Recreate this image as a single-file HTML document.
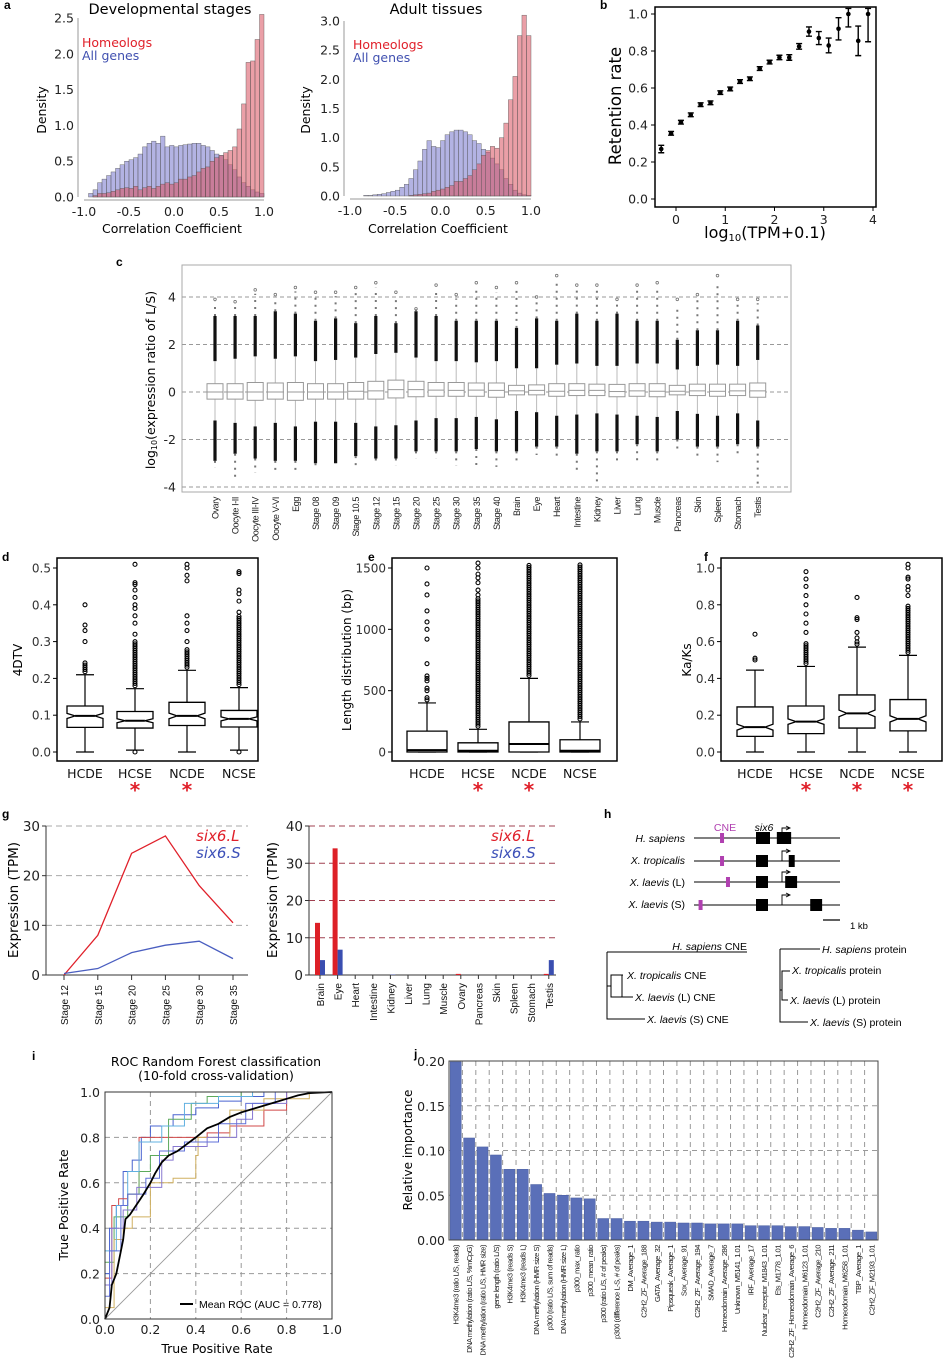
<!DOCTYPE html>
<html><head><meta charset="utf-8">
<style>
html,body{margin:0;padding:0;background:#fff;}
svg{display:block;font-family:"DejaVu Sans","Liberation Sans",sans-serif;}
.pl{font-family:"Liberation Sans",sans-serif;font-weight:bold;font-size:12px;}
</style></head>
<body>
<svg id="fig" width="946" height="1363" viewBox="0 0 946 1363" xmlns="http://www.w3.org/2000/svg">
<rect x="0" y="0" width="946" height="1363" fill="#fff"/>
<text class="pl" x="4" y="9">a</text>
<text class="pl" x="600" y="9">b</text>
<text class="pl" x="116" y="266">c</text>
<text class="pl" x="2" y="561">d</text>
<text class="pl" x="368" y="561">e</text>
<text class="pl" x="704" y="561">f</text>
<text class="pl" x="2" y="818">g</text>
<text class="pl" x="604" y="818">h</text>
<text class="pl" x="32" y="1060">i</text>
<text class="pl" x="414" y="1058">j</text>

<text x="170" y="14" font-size="14.5" text-anchor="middle">Developmental stages</text>
<text x="436" y="14" font-size="14.5" text-anchor="middle">Adult tissues</text>
<text x="82" y="47" font-size="12.5" fill="#e0202a">Homeologs</text>
<text x="82" y="60" font-size="12.5" fill="#4050b0">All genes</text>
<text x="353" y="49" font-size="12.5" fill="#e0202a">Homeologs</text>
<text x="353" y="62" font-size="12.5" fill="#4050b0">All genes</text>
<text x="172" y="233" font-size="12.5" text-anchor="middle">Correlation Coefficient</text>
<text x="438" y="233" font-size="12.5" text-anchor="middle">Correlation Coefficient</text>
<text transform="translate(46,110) rotate(-90)" font-size="12.5" text-anchor="middle">Density</text>
<text transform="translate(310,110) rotate(-90)" font-size="12.5" text-anchor="middle">Density</text>

<text transform="translate(621,106) rotate(-90)" font-size="16.5" text-anchor="middle">Retention rate</text>
<text x="765" y="238" font-size="16" text-anchor="middle">log<tspan font-size="10" dy="3">10</tspan><tspan dy="-3">(TPM+0.1)</tspan></text>

<text transform="translate(155,380) rotate(-90)" font-size="12.5" text-anchor="middle">log<tspan font-size="8" dy="2">10</tspan><tspan dy="-2">(expression ratio of L/S)</tspan></text>

<text transform="translate(22,660) rotate(-90)" font-size="12" text-anchor="middle">4DTV</text>
<text transform="translate(351,660) rotate(-90)" font-size="12" text-anchor="middle">Length distribution (bp)</text>
<text transform="translate(691,660) rotate(-90)" font-size="12" text-anchor="middle">Ka/Ks</text>

<text transform="translate(18,900) rotate(-90)" font-size="13.5" text-anchor="middle">Expression (TPM)</text>
<text transform="translate(277,900) rotate(-90)" font-size="13.5" text-anchor="middle">Expression (TPM)</text>
<text x="196" y="841" font-size="15" font-style="italic" fill="#e0202a">six6.L</text>
<text x="196" y="858" font-size="15" font-style="italic" fill="#3d50b8">six6.S</text>
<text x="491" y="841" font-size="15" font-style="italic" fill="#e0202a">six6.L</text>
<text x="491" y="858" font-size="15" font-style="italic" fill="#3d50b8">six6.S</text>

<g font-family="Liberation Sans, sans-serif" font-size="10.5">
  <text x="725" y="831" fill="#b040b0" text-anchor="middle">CNE</text>
  <text x="764" y="831" font-style="italic" text-anchor="middle">six6</text>
  <text x="685" y="842" text-anchor="end"><tspan font-style="italic">H. sapiens</tspan></text>
  <text x="685" y="864" text-anchor="end"><tspan font-style="italic">X. tropicalis</tspan></text>
  <text x="685" y="886" text-anchor="end"><tspan font-style="italic">X. laevis</tspan> (L)</text>
  <text x="685" y="908" text-anchor="end"><tspan font-style="italic">X. laevis</tspan> (S)</text>
  <line x1="823" y1="920" x2="840" y2="920" stroke="#000" stroke-width="1.2"/>
  <text x="850" y="929" font-size="9.5">1 kb</text>
  <g stroke="#000" stroke-width="1" fill="none">
    <path d="M607,952 H747 M607,952 V1019 H645 M607,986 H611 M611,986 V975 H623 M611,986 V997 H633 M622,975 V997" />
  </g>
  <text x="747" y="950" text-anchor="end"><tspan font-style="italic">H. sapiens</tspan> CNE</text>
  <text x="627" y="979"><tspan font-style="italic">X. tropicalis</tspan> CNE</text>
  <text x="635" y="1001"><tspan font-style="italic">X. laevis</tspan> (L) CNE</text>
  <text x="647" y="1023"><tspan font-style="italic">X. laevis</tspan> (S) CNE</text>
  <g stroke="#000" stroke-width="1" fill="none">
    <path d="M780,949 H820 M780,949 V1022 H808 M780,990 H782 M782,990 V971 H790 M782,990 V1000 H788" />
  </g>
  <text x="822" y="953"><tspan font-style="italic">H. sapiens</tspan> protein</text>
  <text x="792" y="974"><tspan font-style="italic">X. tropicalis</tspan> protein</text>
  <text x="790" y="1004"><tspan font-style="italic">X. laevis</tspan> (L) protein</text>
  <text x="810" y="1026"><tspan font-style="italic">X. laevis</tspan> (S) protein</text>
</g>

<text x="216" y="1066" font-size="12.5" text-anchor="middle">ROC Random Forest classification</text>
<text x="216" y="1080" font-size="12.5" text-anchor="middle">(10-fold cross-validation)</text>
<text transform="translate(68,1205) rotate(-90)" font-size="12.5" text-anchor="middle">True Positive Rate</text>
<text x="217" y="1353" font-size="12.5" text-anchor="middle">True Positive Rate</text>
<line x1="180" y1="1304" x2="193" y2="1304" stroke="#000" stroke-width="2"/>
<text x="199" y="1308" font-family="Liberation Sans, sans-serif" font-size="10.5">Mean ROC (AUC = 0.778)</text>

<text transform="translate(412,1150) rotate(-90)" font-size="12" text-anchor="middle">Relative importance</text>
</svg>

<script>
const histBinsStart = -1;
const histBinWidth = 0.05;
const devAll = [0,0.05,0.1,0.2,0.25,0.3,0.35,0.4,0.45,0.5, 0.52,0.55,0.6,0.7,0.75,0.78,0.75,0.85,0.7,0.72, 0.7,0.72,0.73,0.74,0.75,0.75,0.72,0.7,0.65,0.6, 0.58,0.52,0.45,0.38,0.28,0.2,0.15,0.1,0.07,0.05];
const devHomeo = [0,0,0.02,0.05,0.05,0.06,0.08,0.1,0.12,0.13, 0.12,0.15,0.1,0.13,0.15,0.12,0.15,0.18,0.2,0.18, 0.2,0.25,0.25,0.28,0.3,0.35,0.4,0.42,0.5,0.55, 0.58,0.62,0.65,0.7,0.95,1.3,1.88,1.9,2.2,2.55];
const adultAll = [0,0,0,0.01,0.01,0.02,0.03,0.04,0.06,0.08, 0.1,0.15,0.2,0.3,0.45,0.6,0.8,0.95,0.85,0.83, 0.95,1.05,1.1,1.13,1.13,1.1,1.05,0.95,0.9,0.8, 0.75,0.65,0.55,0.45,0.3,0.2,0.1,0.05,0.02,0.01];
const adultHomeo = [0,0,0,0,0,0,0,0,0,0, 0,0,0,0.01,0.02,0.03,0.04,0.05,0.08,0.1, 0.12,0.15,0.18,0.25,0.25,0.3,0.35,0.45,0.55,0.7, 0.78,0.85,0.82,1.0,1.25,1.65,2.05,2.75,3.1,2.75];
const histXTicks = [-1,-0.5,0,0.5,1];
const devYTicks = [0,0.5,1,1.5,2,2.5];
const adultYTicks = [0,0.5,1,1.5,2,2.5,3];
const retX = [-0.3,-0.1,0.1,0.3,0.5,0.7,0.9,1.1,1.3,1.5,1.7,1.9,2.1,2.3,2.5,2.7,2.9,3.1,3.3,3.5,3.7,3.9];
const retY = [0.27,0.355,0.415,0.455,0.51,0.52,0.575,0.595,0.635,0.65,0.705,0.74,0.765,0.765,0.825,0.905,0.87,0.83,0.92,1.0,0.855,1.0];
const retErr = [0.02,0.01,0.01,0.01,0.01,0.01,0.01,0.01,0.01,0.01,0.01,0.01,0.012,0.015,0.015,0.025,0.035,0.04,0.06,0.07,0.08,0.15];
const retXTicks = [0,1,2,3,4];
const retYTicks = [0,0.2,0.4,0.6,0.8,1.0];
const cCats = ["Ovary","Oocyte I-II","Oocyte III-IV","Oocyte V-VI","Egg","Stage 08","Stage 09","Stage 10.5","Stage 12","Stage 15","Stage 20","Stage 25","Stage 30","Stage 35","Stage 40","Brain","Eye","Heart","Intestine","Kidney","Liver","Lung","Muscle","Pancreas","Skin","Spleen","Stomach","Testis"];
const cMed = [0,0,0,0,0,0,0,0.03,0.05,0.1,0.1,0.08,0.07,0.08,0.07,0.05,0.07,0.03,0.07,0.07,0.02,0.05,0.03,0.03,0.05,0.03,0.05,0.05];
const cQ3 = [0.35,0.35,0.4,0.38,0.4,0.35,0.35,0.4,0.45,0.5,0.45,0.4,0.4,0.38,0.38,0.28,0.3,0.35,0.35,0.33,0.32,0.35,0.35,0.28,0.33,0.33,0.33,0.38];
const cQ1 = [-0.3,-0.3,-0.35,-0.3,-0.35,-0.3,-0.3,-0.3,-0.3,-0.25,-0.2,-0.18,-0.18,-0.18,-0.22,-0.12,-0.12,-0.18,-0.15,-0.15,-0.2,-0.18,-0.2,-0.12,-0.15,-0.18,-0.15,-0.22];
const cWhiskHi = [1.3,1.4,1.5,1.4,1.5,1.3,1.35,1.45,1.6,1.65,1.45,1.3,1.3,1.25,1.3,1.0,1.0,1.15,1.2,1.1,1.1,1.2,1.2,0.95,1.1,1.15,1.1,1.35];
const cWhiskLo = [-1.2,-1.3,-1.45,-1.3,-1.45,-1.25,-1.25,-1.3,-1.45,-1.4,-1.2,-1.1,-1.1,-1.05,-1.15,-0.8,-0.85,-1.0,-0.95,-0.9,-0.95,-1.0,-1.05,-0.8,-0.92,-1.0,-0.9,-1.2];
const cDenseHi = [3.2,3.2,3.2,3.4,3.3,3.0,3.1,2.9,3.2,2.9,3.4,3.2,3.0,3.0,3.0,2.7,3.1,3.0,3.3,3.0,3.3,3.0,3.0,2.2,2.6,2.6,3.0,2.8];
const cDenseLo = [-2.9,-2.6,-2.8,-2.9,-2.9,-3.0,-3.0,-2.7,-2.8,-2.8,-2.5,-2.5,-2.5,-2.4,-2.5,-2.5,-2.3,-2.3,-2.6,-2.5,-2.5,-2.2,-2.5,-2.0,-2.3,-2.3,-2.2,-2.3];
const cMax = [3.9,3.8,4.3,4.1,4.4,4.2,4.2,4.4,4.6,4.2,3.5,4.5,4.1,4.6,4.4,4.6,4.0,4.9,4.5,4.5,3.9,4.5,4.6,3.9,4.1,4.9,3.9,3.9];
const cMin = [-3.2,-3.6,-3.4,-3.3,-3.45,-3.1,-3.0,-3.1,-3.0,-3.1,-2.8,-2.8,-3.1,-3.2,-3.15,-3.0,-2.65,-2.8,-3.4,-3.85,-3.0,-2.95,-3.0,-2.55,-2.7,-2.95,-2.6,-3.9];
const cYTicks = [-4,-2,0,2,4];
const groups = ["HCDE","HCSE","NCDE","NCSE"];
const dLo=[0,0.005,0,0.005], dQ1=[0.067,0.065,0.072,0.068], dMed=[0.098,0.085,0.098,0.09], dQ3=[0.125,0.11,0.135,0.113], dHi=[0.21,0.172,0.222,0.175], dDense=[0.245,0.3,0.28,0.37];
const dOut=[[0.3,0.33,0.345,0.4],[0.32,0.35,0.37,0.39,0.4,0.42,0.44,0.455,0.46,0.51,0],[0.3,0.33,0.35,0.37,0.465,0.48,0.5,0.51],[0.38,0.41,0.43,0.44,0.485,0.49,0]];
const dYTicks=[0,0.1,0.2,0.3,0.4,0.5];
const dStars=[false,true,true,false];
const eLo=[0,0,0,0], eQ1=[0,0,0,0], eMed=[15,10,65,10], eQ3=[170,75,245,100], eHi=[400,185,600,245], eDense=[450,1250,1530,1540];
const eOut=[[500,520,580,600,620,720,920,1000,1060,1150,1280,1370,1500],[1280,1320,1380,1420,1450,1500,1540],[],[]];
const eYTicks=[0,500,1000,1500];
const eStars=[false,true,true,false];
const fLo=[0,0,0,0], fQ1=[0.085,0.1,0.13,0.115], fMed=[0.135,0.165,0.21,0.18], fQ3=[0.245,0.25,0.31,0.285], fHi=[0.445,0.465,0.57,0.525], fDense=[0.445,0.6,0.6,0.8];
const fOut=[[0.5,0.51,0.64],[0.65,0.7,0.75,0.8,0.85,0.9,0.94,0.98],[0.62,0.65,0.72,0.73,0.84],[0.85,0.88,0.9,0.94,0.95,1.0,1.02]];
const fYTicks=[0,0.2,0.4,0.6,0.8,1.0];
const fStars=[false,true,true,true];
const gStages = ["Stage 12","Stage 15","Stage 20","Stage 25","Stage 30","Stage 35"];
const gStageL = [0,8,24.5,28,18,10.5];
const gStageS = [0.3,1.3,4.5,6,6.8,3.3];
const gStageYTicks = [0,10,20,30];
const gTissues = ["Brain","Eye","Heart","Intestine","Kidney","Liver","Lung","Muscle","Ovary","Pancreas","Skin","Spleen","Stomach","Testis"];
const gTissueL = [14,34,0,0,0,0,0,0,0.3,0,0,0,0,0.3];
const gTissueS = [4,6.8,0,0,0.1,0,0,0,0,0,0,0,0,4];
const gTissueYTicks = [0,10,20,30,40];
const hRows = ["H. sapiens","X. tropicalis","X. laevis (L)","X. laevis (S)"];
const hCne = [2.1,2.1,2.6,0.3];
const hExon2Start = [6.7,7.7,7.4,9.5];
const hExon2End = [7.9,8.2,8.4,10.5];
const rocMeanF = [0,0.02,0.03,0.05,0.07,0.08,0.09,0.11,0.13,0.15,0.17,0.2,0.22,0.25,0.28,0.32,0.36,0.4,0.45,0.5,0.55,0.6,0.65,0.7,0.75,0.8,0.85,0.9,1];
const rocMeanT = [0,0.05,0.15,0.2,0.3,0.35,0.44,0.46,0.49,0.52,0.55,0.6,0.64,0.69,0.72,0.74,0.77,0.8,0.84,0.86,0.89,0.91,0.925,0.94,0.955,0.97,0.985,0.995,1];
const fold1F=[0,0.02,0.05,0.08,0.12,0.16,0.2,0.3,0.4,0.5,0.6,0.7,1], fold1T=[0,0.2,0.4,0.5,0.65,0.7,0.8,0.85,0.9,0.93,0.96,0.98,1];
const fold2F=[0,0.03,0.06,0.1,0.15,0.22,0.3,0.45,0.55,0.7,0.8,1], fold2T=[0,0.18,0.5,0.53,0.55,0.8,0.8,0.8,0.82,0.85,0.92,1];
const fold3F=[0,0.04,0.1,0.15,0.2,0.28,0.38,0.45,0.6,0.7,1], fold3T=[0,0.25,0.45,0.55,0.65,0.72,0.88,0.95,0.98,1,1];
const fold4F=[0,0.04,0.08,0.12,0.2,0.3,0.4,0.41,0.55,0.7,0.9,1], fold4T=[0,0.05,0.35,0.4,0.45,0.6,0.62,0.72,0.8,0.92,0.97,1];
const fold5F=[0,0.05,0.1,0.15,0.25,0.35,0.5,0.65,1], fold5T=[0,0.3,0.5,0.65,0.78,0.85,0.95,0.98,1];
const fold6F=[0,0.03,0.08,0.14,0.25,0.3,0.45,0.58,0.65,0.8,1], fold6T=[0,0.15,0.4,0.48,0.58,0.7,0.76,0.8,0.88,0.95,1];
const fold7F=[0,0.02,0.07,0.1,0.18,0.24,0.35,0.5,0.62,0.75,1], fold7T=[0,0.1,0.3,0.5,0.55,0.62,0.74,0.78,0.86,0.95,1];
const rocTicks=[0,0.2,0.4,0.6,0.8,1.0];
const jFeatures = ["H3K4me3 (ratio L/S, reads)","DNA methylation (ratio L/S, %mCpG)","DNA methylation (ratio L/S, HMR size)","gene length (ratio L/S)","H3K4me3 (reads S)","H3K4me3 (reads L)","DNA methylation (HMR size S)","p300 (ratio L/S, sum of reads)","DNA methylation (HMR size L)","p300_max_ratio","p300_mean_ratio","p300 (ratio L/S, # of peaks)","p300 (difference L-S, # of peaks)","DM_Average_1","C2H2_ZF_Average_188","GATA_Average_32","Pipsqueak_Average_1","Sox_Average_91","C2H2_ZF_Average_194","SMAD_Average_7","Homeodomain_Average_286","Unknown_M5141_1.01","IRF_Average_17","Nuclear_receptor_M1843_1.01","Ets_M1778_1.01","C2H2_ZF_Homeodomain_Average_6","Homeodomain_M6123_1.01","C2H2_ZF_Average_210","C2H2_ZF_Average_211","Homeodomain_M6258_1.01","TBP_Average_1","C2H2_ZF_M2193_1.01"];
const jValues = [0.199,0.114,0.104,0.095,0.079,0.079,0.062,0.052,0.050,0.047,0.046,0.024,0.024,0.021,0.021,0.020,0.020,0.019,0.019,0.018,0.018,0.018,0.016,0.016,0.016,0.015,0.015,0.014,0.013,0.013,0.011,0.009];
const jYTicks=[0,0.05,0.1,0.15,0.2];
const jYLabels=["0.00","0.05","0.10","0.15","0.20"];

const NS='http://www.w3.org/2000/svg';
const svg=document.getElementById('fig');
function mk(tag,at,par){const e=document.createElementNS(NS,tag);for(const k in at)e.setAttribute(k,at[k]);(par||svg).appendChild(e);return e;}
function tx(str,at,par){const e=mk('text',at,par);e.textContent=str;return e;}
function lin(d0,d1,r0,r1){return v=>r0+(v-d0)/(d1-d0)*(r1-r0);}
function fmt1(v){return v.toFixed(1);}

function drawHist(name,allV,homV,xs,ys,yTicks,axLeft,yBase){
  const g=mk('g',{});
  
  
  for(let i=0;i<allV.length;i++){
    const x0=xs(histBinsStart+i*histBinWidth), x1=xs(histBinsStart+(i+1)*histBinWidth);
    const r=mk('rect',{x:x0,y:ys(allV[i]),width:x1-x0,height:ys(0)-ys(allV[i]),fill:'#8080d0','fill-opacity':0.6,stroke:'#555','stroke-width':0.4},g);
    
    
  }
  for(let i=0;i<homV.length;i++){
    const x0=xs(histBinsStart+i*histBinWidth), x1=xs(histBinsStart+(i+1)*histBinWidth);
    const r=mk('rect',{x:x0,y:ys(homV[i]),width:x1-x0,height:ys(0)-ys(homV[i]),fill:'#d8505e','fill-opacity':0.55,stroke:'#555','stroke-width':0.4},g);
    
    
  }
  const ya=mk('line',{x1:axLeft,x2:axLeft,y1:ys(yTicks[yTicks.length-1]),y2:ys(0),stroke:'#999','stroke-width':1},g);
  
  
  yTicks.forEach(t=>{
    const l=tx(fmt1(t),{x:axLeft-4,y:ys(t)+4.5,'font-size':12.5,'text-anchor':'end',fill:'#222'},g);
    
    
  });
  const xa=mk('line',{x1:xs(-1),x2:xs(1),y1:yBase,y2:yBase,stroke:'#999','stroke-width':1},g);
  
  
  histXTicks.forEach(t=>{
    const l=tx(fmt1(t),{x:xs(t),y:yBase+16,'font-size':12.5,'text-anchor':'middle',fill:'#222'},g);
    
    
  });
}
drawHist('hist-developmental',devAll,devHomeo,lin(-1,1,84,264),lin(0,2.5,197,18),devYTicks,78,200);
drawHist('hist-adult',adultAll,adultHomeo,lin(-1,1,350,531),lin(0,3,196,21),adultYTicks,344,199);

(function(){
  const xs=lin(0,4,676,873), ys=lin(0,1,199,14);
  const g=mk('g',{});
  
  
  const fr=mk('rect',{x:655,y:7,width:221,height:200,fill:'none',stroke:'#000','stroke-width':1.5},g);
  
  
  retYTicks.forEach(t=>{
    const tk=mk('line',{x1:651,x2:655,y1:ys(t),y2:ys(t),stroke:'#000'},g);
    
    
    const l=tx(fmt1(t),{x:648,y:ys(t)+4.5,'font-size':12.5,'text-anchor':'end',fill:'#222'},g);
    
    
  });
  retXTicks.forEach(t=>{
    const tk=mk('line',{x1:xs(t),x2:xs(t),y1:207,y2:211,stroke:'#000'},g);
    
    
    const l=tx(String(t),{x:xs(t),y:224,'font-size':12.5,'text-anchor':'middle',fill:'#222'},g);
    
    
  });
  retX.forEach((x,i)=>{
    const hi=Math.min(retY[i]+retErr[i],1.03), lo=retY[i]-retErr[i];
    const e=mk('path',{d:`M${xs(x)},${ys(hi)}V${ys(lo)}M${xs(x)-3},${ys(hi)}h6M${xs(x)-3},${ys(lo)}h6`,stroke:'#000','stroke-width':1.4,fill:'none'},g);
    
    
    const p=mk('circle',{cx:xs(x),cy:ys(retY[i]),r:2.3,fill:'#000'},g);
    
    
  });
})();

(function(){
  const ys=lin(0,4,392,297);
  const xs=i=>215+i*20.1;
  const g=mk('g',{});
  
  
  const fr=mk('rect',{x:182,y:265,width:609,height:227,fill:'none',stroke:'#aaa','stroke-width':1},g);
  
  
  cYTicks.forEach(t=>{
    const gl=mk('line',{x1:182,x2:791,y1:ys(t),y2:ys(t),stroke:'#999','stroke-dasharray':'4,3','stroke-width':0.9},g);
    
    
    const l=tx(String(t),{x:176,y:ys(t)+4.5,'font-size':12.5,'text-anchor':'end',fill:'#222'},g);
    
    
  });
  cCats.forEach((c,i)=>{
    const x=xs(i);
    const w=mk('path',{d:`M${x},${ys(cQ3[i])}V${ys(cWhiskHi[i])}M${x},${ys(cQ1[i])}V${ys(cWhiskLo[i])}`,stroke:'#bbb','stroke-width':1},g);
    
    
    const du=mk('line',{x1:x,x2:x,y1:ys(cWhiskHi[i]),y2:ys(cDenseHi[i]),stroke:'#111','stroke-width':3.2},g);
    
    
    const dl=mk('line',{x1:x,x2:x,y1:ys(cWhiskLo[i]),y2:ys(cDenseLo[i]),stroke:'#111','stroke-width':3.2},g);
    
    
    const su=mk('line',{x1:x,x2:x,y1:ys(cDenseHi[i]),y2:ys(cMax[i]*0.85+cDenseHi[i]*0.15),stroke:'#777','stroke-width':2,'stroke-dasharray':'2,5'},g);
    
    
    const sl=mk('line',{x1:x,x2:x,y1:ys(cDenseLo[i]),y2:ys(cMin[i]),stroke:'#777','stroke-width':2,'stroke-dasharray':'2,5'},g);
    
    
    const mx=mk('circle',{cx:x,cy:ys(cMax[i]),r:1.3,fill:'none',stroke:'#777','stroke-width':0.8},g);
    
    
    const b=mk('rect',{x:x-8,y:ys(cQ3[i]),width:16,height:ys(cQ1[i])-ys(cQ3[i]),fill:'#fff',stroke:'#999','stroke-width':1},g);
    
    
    const m=mk('line',{x1:x-8,x2:x+8,y1:ys(cMed[i]),y2:ys(cMed[i]),stroke:'#999','stroke-width':1},g);
    
    
    const l=tx(c,{transform:`translate(${x+3.5},497) rotate(-90)`,'font-family':'Liberation Sans, sans-serif','font-size':9,'letter-spacing':'-0.4','text-anchor':'end',fill:'#222'},g);
    
    
  });
})();

function drawBoxPanel(name,fx0,fx1,ys,yTicks,tickFmt,centers,lo,q1,med,q3,hi,dense,outs,stars,notch,hw){
  const g=mk('g',{});
  
  
  const fr=mk('rect',{x:fx0,y:558,width:fx1-fx0,height:203,fill:'none',stroke:'#000','stroke-width':1.5},g);
  
  
  yTicks.forEach(t=>{
    const tk=mk('line',{x1:fx0-4,x2:fx0,y1:ys(t),y2:ys(t),stroke:'#000'},g);
    
    
    const l=tx(tickFmt(t),{x:fx0-6,y:ys(t)+4.5,'font-size':12,'text-anchor':'end',fill:'#333'},g);
    
    
  });
  groups.forEach((gn,i)=>{
    const x=centers[i];
    const w=mk('path',{d:`M${x},${ys(q3[i])}V${ys(hi[i])}M${x-9},${ys(hi[i])}h18M${x},${ys(q1[i])}V${ys(lo[i])}M${x-9},${ys(lo[i])}h18`,stroke:'#000','stroke-width':1.2,fill:'none'},g);
    
    
    const y0=ys(hi[i]), y1=ys(dense[i]);
    for(let y=y0-3;y>=Math.max(y1,560);y-=2.2){
      const c=mk('circle',{cx:x,cy:y,r:2,fill:'none',stroke:'#000','stroke-width':1.1},g);
      
      
    }
    outs[i].forEach(v=>{
      const c=mk('circle',{cx:x,cy:Math.max(ys(v),560),r:2,fill:'none',stroke:'#000','stroke-width':1.1},g);
      
      
    });
    const nh=notch*(q3[i]-q1[i]);
    const ym=ys(med[i]), yn1=ys(med[i]+nh), yn0=ys(med[i]-nh), nw=notch>0?hw*0.55:hw;
    const b=mk('path',{d:`M${x-hw},${ys(q3[i])}H${x+hw}V${yn1}L${x+nw},${ym}L${x+hw},${yn0}V${ys(q1[i])}H${x-hw}V${yn0}L${x-nw},${ym}L${x-hw},${yn1}Z`,fill:'#fff',stroke:'#000','stroke-width':1.3},g);
    
    
    const m=mk('line',{x1:x-nw,x2:x+nw,y1:ym,y2:ym,stroke:'#000','stroke-width':2},g);
    
    
    const l=tx(gn,{x:x,y:778,'font-size':12.5,'text-anchor':'middle',fill:'#111'},g);
    
    
    if(stars[i]){
      const s=tx('*',{x:x,y:797,'font-size':20,'font-weight':'bold','text-anchor':'middle',fill:'#e0202a'},g);
      
      
    }
  });
}
drawBoxPanel('4dtv-boxplot',57,258,lin(0,0.5,752,568),dYTicks,fmt1,[85,135,187,239],dLo,dQ1,dMed,dQ3,dHi,dDense,dOut,dStars,0.12,18);
drawBoxPanel('length-boxplot',392,617,lin(0,1500,752,568),eYTicks,t=>String(t),[427,478,529,580],eLo,eQ1,eMed,eQ3,eHi,eDense,eOut,eStars,0,20);
drawBoxPanel('kaks-boxplot',721,942,lin(0,1,752,568),fYTicks,fmt1,[755,806,857,908],fLo,fQ1,fMed,fQ3,fHi,fDense,fOut,fStars,0.1,18);

(function(){
  const ys=lin(0,30,975,826);
  const xs=i=>64+i*33.8;
  const g=mk('g',{});
  
  
  gStageYTicks.forEach(t=>{
    if(t>0){const gl=mk('line',{x1:46,x2:248,y1:ys(t),y2:ys(t),stroke:'#aaa','stroke-dasharray':'6,4'},g);
    
    }
    const tk=mk('line',{x1:42,x2:46,y1:ys(t),y2:ys(t),stroke:'#333'},g);
    
    
    const l=tx(String(t),{x:40,y:ys(t)+5,'font-size':13.5,'text-anchor':'end',fill:'#222'},g);
    
    
  });
  const ax=mk('path',{d:`M46,${ys(30)}V975H248`,stroke:'#333','stroke-width':1,fill:'none'},g);
  
  
  gStages.forEach((s,i)=>{
    const tk=mk('line',{x1:xs(i),x2:xs(i),y1:975,y2:980,stroke:'#333'},g);
    
    
    const l=tx(s,{transform:`translate(${xs(i)+4},985) rotate(-90)`,'font-family':'Liberation Sans, sans-serif','font-size':10,'text-anchor':'end',fill:'#111'},g);
    
    
  });
  const pl=mk('polyline',{points:gStageL.map((v,i)=>xs(i)+','+ys(v)).join(' '),fill:'none',stroke:'#e0202a','stroke-width':1.3},g);
  
  
  const ps=mk('polyline',{points:gStageS.map((v,i)=>xs(i)+','+ys(v)).join(' '),fill:'none',stroke:'#4a5ec0','stroke-width':1.3},g);
  
  
})();
(function(){
  const ys=lin(0,40,975,826);
  const xs=i=>320+i*17.6;
  const g=mk('g',{});
  
  
  gTissueYTicks.forEach(t=>{
    if(t>0){const gl=mk('line',{x1:309,x2:555,y1:ys(t),y2:ys(t),stroke:'#a04050','stroke-dasharray':'6,4'},g);
    
    }
    const tk=mk('line',{x1:305,x2:309,y1:ys(t),y2:ys(t),stroke:'#333'},g);
    
    
    const l=tx(String(t),{x:303,y:ys(t)+5,'font-size':13.5,'text-anchor':'end',fill:'#222'},g);
    
    
  });
  const ax=mk('path',{d:`M309,${ys(40)}V975H556`,stroke:'#333','stroke-width':1,fill:'none'},g);
  
  
  gTissues.forEach((s,i)=>{
    const x=xs(i);
    const bl=mk('rect',{x:x-5,y:ys(gTissueL[i]),width:5,height:975-ys(gTissueL[i]),fill:'#dd2027'},g);
    
    
    const bs=mk('rect',{x:x,y:ys(gTissueS[i]),width:5,height:975-ys(gTissueS[i]),fill:'#3a4eb0'},g);
    
    
    const tk=mk('line',{x1:x,x2:x,y1:975,y2:979,stroke:'#333'},g);
    
    
    const l=tx(s,{transform:`translate(${x+4},983) rotate(-90)`,'font-family':'Liberation Sans, sans-serif','font-size':10,'text-anchor':'end',fill:'#111'},g);
    
    
  });
})();

(function(){
  const xs=lin(0,12,697,840);
  const rowY=[838,861,882,905];
  const g=mk('g',{});
  
  
  hRows.forEach((r,i)=>{
    const y=rowY[i];
    const ln=mk('line',{x1:694,x2:840,y1:y,y2:y,stroke:'#000','stroke-width':1},g);
    
    
    const c=mk('rect',{x:xs(hCne[i])-2,y:y-5,width:4,height:10,fill:'#b040b0'},g);
    
    
    const e1=mk('rect',{x:756,y:y-6,width:i===0?14:12,height:12,fill:'#000'},g);
    
    
    const ar=mk('path',{d:`M782,${y}V${y-10}H789M786,${y-12}L790,${y-10}L786,${y-8}`,stroke:'#000','stroke-width':0.9,fill:'none'},g);
    
    
    const e2=mk('rect',{x:xs(hExon2Start[i]),y:y-6,width:xs(hExon2End[i])-xs(hExon2Start[i]),height:12,fill:'#000'},g);
    
    
  });
})();

(function(){
  const xs=lin(0,1,105,332), ys=lin(0,1,1319,1092);
  const g=mk('g',{});
  
  
  rocTicks.forEach(t=>{
    if(t>0&&t<1){
      const gv=mk('line',{x1:xs(t),x2:xs(t),y1:1092,y2:1319,stroke:'#999','stroke-dasharray':'5,4'},g);
      
      
      const gh=mk('line',{x1:105,x2:332,y1:ys(t),y2:ys(t),stroke:'#999','stroke-dasharray':'5,4'},g);
      
      
    }
    const lx=tx(fmt1(t),{x:xs(t),y:1334,'font-size':12.5,'text-anchor':'middle',fill:'#222'},g);
    
    
    const ly=tx(fmt1(t),{x:100,y:ys(t)+5,'font-size':12.5,'text-anchor':'end',fill:'#222'},g);
    
    
  });
  const dg=mk('line',{x1:xs(0),y1:ys(0),x2:xs(1),y2:ys(1),stroke:'#999','stroke-width':0.9},g);
  
  
  const folds=[[fold1F,fold1T,'#4a64d0'],[fold2F,fold2T,'#d04848'],[fold3F,fold3T,'#5caa5c'],[fold4F,fold4T,'#d0b060'],[fold5F,fold5T,'#60b0e0'],[fold6F,fold6T,'#8878d0'],[fold7F,fold7T,'#6070d8']];
  folds.forEach(f=>{
    let d=`M${xs(f[0][0])},${ys(f[1][0])}`;
    for(let k=1;k<f[0].length;k++){d+=`V${ys(f[1][k])}H${xs(f[0][k])}`;}
    const p=mk('path',{d:d,fill:'none',stroke:f[2],'stroke-width':1},g);
    
    
  });
  const mean=mk('polyline',{points:rocMeanF.map((v,i)=>xs(v)+','+ys(rocMeanT[i])).join(' '),fill:'none',stroke:'#000','stroke-width':1.8},g);
  
  
  const fr=mk('rect',{x:105,y:1092,width:227,height:227,fill:'none',stroke:'#333','stroke-width':1},g);
  
  
})();

(function(){
  const ys=lin(0,0.2,1240,1061);
  const step=(878-449)/jValues.length;
  const xs=i=>449+step*(i+0.5);
  const g=mk('g',{});
  
  
  jYTicks.forEach((t,k)=>{
    if(t>0&&t<0.2){const gl=mk('line',{x1:449,x2:878,y1:ys(t),y2:ys(t),stroke:'#999','stroke-dasharray':'5,4'},g);
    
    }
    const l=tx(jYLabels[k],{x:445,y:ys(t)+5,'font-size':12.5,'text-anchor':'end',fill:'#222'},g);
    
    
  });
  jValues.forEach((v,i)=>{
    const gv=mk('line',{x1:xs(i)+step/2,x2:xs(i)+step/2,y1:1061,y2:1240,stroke:'#999','stroke-dasharray':'5,4'},g);
    
    
  });
  jValues.forEach((v,i)=>{
    const b=mk('rect',{x:xs(i)-5.5,y:ys(v),width:11,height:1240-ys(v),fill:'#5a6fb8',stroke:'#4a5ea0','stroke-width':0.5},g);
    
    
    const l=tx(jFeatures[i],{transform:`translate(${xs(i)+3},1245) rotate(-90)`,'font-family':'Liberation Sans, sans-serif','font-size':7.6,'letter-spacing':'-0.5','text-anchor':'end',fill:'#222'},g);
    
    
  });
  const fr=mk('rect',{x:449,y:1061,width:429,height:179,fill:'none',stroke:'#444','stroke-width':1},g);
  
  
})();
</script>
</body></html>
